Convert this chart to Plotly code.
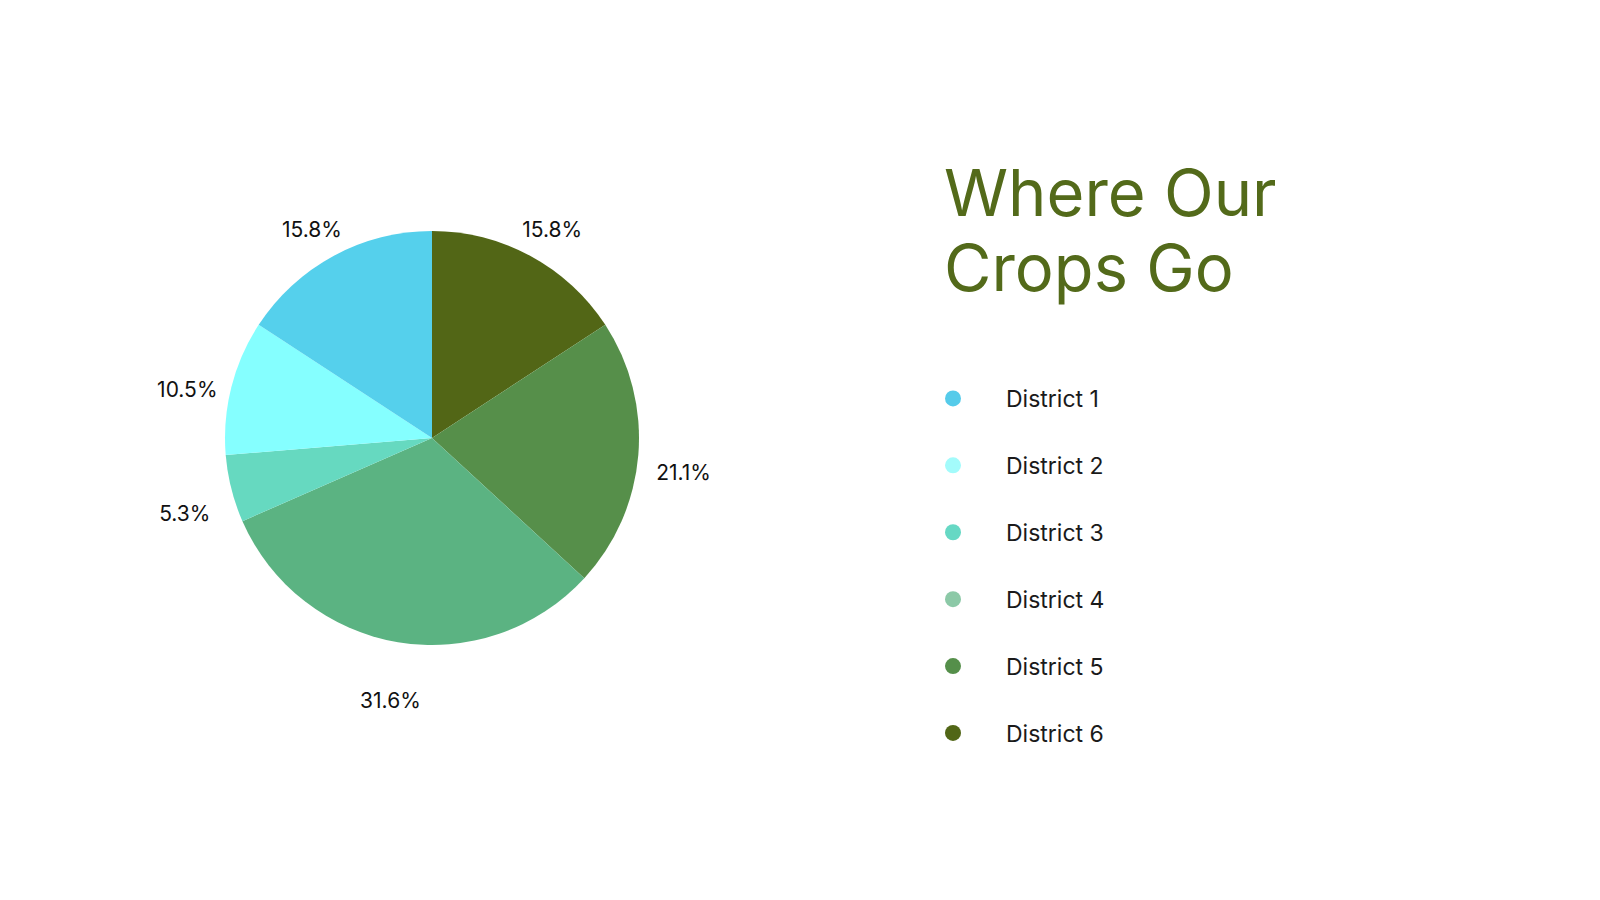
import plotly.graph_objects as go

districts = ["District 1", "District 2", "District 3", "District 4", "District 5", "District 6"]
shares = [3, 2, 1, 6, 4, 3]
slice_colors = ["#55d0ec", "#85ffff", "#66d9c0", "#5bb382", "#568f4a", "#526616"]
legend_colors = ["#55cbea", "#a3fbfb", "#66d8c4", "#8cc9a7", "#558f4a", "#516616"]

title_lines = ["Where Our", "Crops Go"]

# District 1 sits just left of 12 o'clock and the rest follow counterclockwise,
# so feed the slices in reverse order going clockwise
pie_labels = districts[::-1]
pie_values = shares[::-1]
pie_colors = slice_colors[::-1]

fig = go.Figure()

# the pie itself
fig.add_trace(go.Pie(
    labels=pie_labels, values=pie_values, sort=False, direction="clockwise",
    rotation=0, marker=dict(colors=pie_colors, line=dict(width=0)),
    textinfo="none", showlegend=False,
    domain=dict(x=[0.1356, 0.3944], y=[0.2922, 0.7522]),
))

# transparent ring used only to put the percentages a bit away from the pie
fig.add_trace(go.Pie(
    labels=pie_labels, values=pie_values, sort=False, direction="clockwise",
    rotation=0, hole=0.70,
    marker=dict(colors=["rgba(0,0,0,0)"] * len(districts), line=dict(width=0)),
    texttemplate="%{percent:.1%}", textposition="inside",
    insidetextorientation="horizontal",
    textfont=dict(family="Inter", size=21, color="#111111"),
    hoverinfo="skip", showlegend=False,
    domain=dict(x=[0.0794, 0.4506], y=[0.1774, 0.8374]),
))

# legend with round markers
for name, col in zip(districts, legend_colors):
    fig.add_trace(go.Scatter(
        x=[None], y=[None], mode="markers", name=name, legendgroup=name,
        marker=dict(size=16, color=col),
    ))

fig.add_annotation(text=title_lines[0], x=0.58375, y=1 - 143 / 900,
                   xref="paper", yref="paper", xanchor="left", yanchor="top",
                   showarrow=False,
                   font=dict(family="Inter", size=65, color="#536a1a"))
fig.add_annotation(text=title_lines[1], x=0.58375, y=1 - 218 / 900,
                   xref="paper", yref="paper", xanchor="left", yanchor="top",
                   showarrow=False,
                   font=dict(family="Inter", size=65, color="#536a1a"))

fig.update_layout(
    width=1600, height=900,
    margin=dict(l=0, r=0, t=0, b=0),
    paper_bgcolor="white", plot_bgcolor="white",
    xaxis=dict(visible=False), yaxis=dict(visible=False),
    uniformtext=dict(minsize=21, mode="show"),
    legend=dict(
        x=0.5575, y=1 - 369 / 900, xanchor="left", yanchor="top",
        font=dict(family="Inter", size=23, color="#1a1a1a"),
        tracegroupgap=34, itemwidth=96, bgcolor="rgba(0,0,0,0)",
    ),
    font=dict(family="Inter"),
)

fig.write_html("out.html")
